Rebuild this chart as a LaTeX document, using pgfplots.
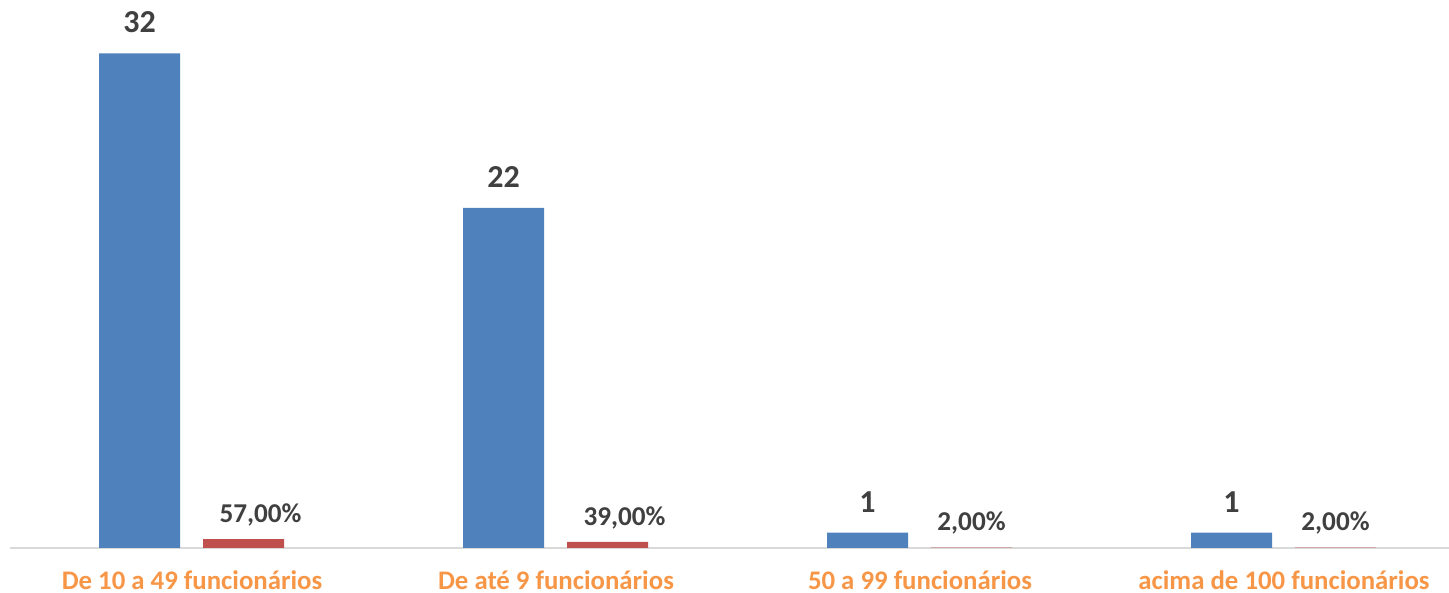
\documentclass[border=0pt]{standalone}
\usepackage{pgfplots}
\pgfplotsset{compat=1.18}
\usepackage{fontspec}
\setmainfont{Carlito}

\definecolor{barblue}{HTML}{4F81BD}
\definecolor{barred}{HTML}{C0504D}
\definecolor{catorange}{HTML}{F79646}
\definecolor{lblgray}{HTML}{404040}
\definecolor{axgray}{HTML}{D9D9D9}

\begin{document}
\begin{tikzpicture}
\begin{axis}[
    x=182pt, y=7.73pt,
    xmin=-0.5, xmax=3.453,
    ymin=0, ymax=35.45,
    ybar, bar width=40.5pt,
    axis x line=bottom,
    axis y line=none,
    x axis line style={-, draw=axgray, line width=1pt},
    xtick={0,1,2,3},
    xticklabels={De 10 a 49 funcionários, De até 9 funcionários, 50 a 99 funcionários, acima de 100 funcionários},
    major tick length=0pt,
    xticklabel style={font=\fontsize{13.4}{15}\selectfont\bfseries, text=catorange,
        inner sep=0pt, text depth=0pt, yshift=-11pt},
    ytick=\empty,
    clip=false,
    /pgf/number format/assume math mode=true,
    pct/.style={fill=barred, draw=none, bar shift=25.75pt,
        point meta={y*100},
        nodes near coords={\pgfmathprintnumber[fixed,fixed zerofill,precision=2,use comma]{\pgfplotspointmeta}\%},
        every node near coord/.append style={font=\fontsize{13.6}{15}\selectfont\bfseries, text=lblgray, yshift=3pt}},
]
% counts
\addplot[fill=barblue, draw=none, bar shift=-26.25pt,
    nodes near coords,
    every node near coord/.append style={font=\fontsize{16}{18}\selectfont\bfseries, text=lblgray, yshift=6.5pt}]
    coordinates {(0,32) (1,22) (2,1) (3,1)};
% shares (labels of the first two sit a little to the right)
\addplot[pct, every node near coord/.append style={xshift=8.5pt}]
    coordinates {(0,0.57) (1,0.39)};
\addplot[pct]
    coordinates {(2,0.02) (3,0.02)};
\end{axis}
\pgfresetboundingbox
\path[use as bounding box] (-5pt,-22.5pt) rectangle (719.5pt,274pt);
\end{tikzpicture}
\end{document}
